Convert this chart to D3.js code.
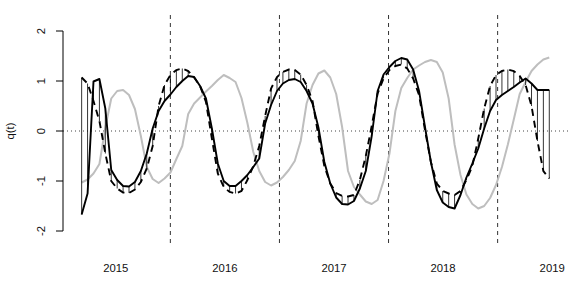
<!DOCTYPE html>
<html>
<head>
<meta charset="utf-8">
<script src="https://cdn.jsdelivr.net/npm/d3@7"></script>
<style>
  body { margin: 0; background: #fff; }
  text { font-family: "Liberation Sans", Arial, Helvetica, sans-serif; font-size: 11.3px; fill: #111; }
</style>
</head>
<body>
<div id="chart"></div>
<script>
// sampled series, 18.43 points per year starting at 2014.687
const start = 2014.687;
const perYear = 18.43;

const fitted = [
  -1.67, -1.25, 0.99, 1.04, 0.45, -0.78, -0.98, -1.1, -1.11, -1.02,
  -0.8, -0.45, 0.05, 0.4, 0.6, 0.73, 0.88, 1.0, 1.1, 1.08,
  0.9, 0.65, 0.05, -0.65, -1.0, -1.1, -1.1, -1.0, -0.88, -0.72,
  -0.55, 0.15, 0.52, 0.8, 0.95, 1.02, 1.04, 0.98, 0.8, 0.55,
  0.07, -0.62, -1.05, -1.33, -1.46, -1.47, -1.4, -1.15, -0.8, -0.1,
  0.8, 1.13, 1.28, 1.4, 1.46, 1.43, 1.23, 0.8, 0.08, -0.62,
  -1.18, -1.43, -1.52, -1.55, -1.28, -0.93, -0.65, -0.35, 0.05, 0.4,
  0.62, 0.72, 0.8, 0.88, 0.97, 1.05, 0.95, 0.82, 0.82, 0.82
];

const observed = [
  1.07, 0.95, 0.6, 0.2, -0.45, -1.0, -1.15, -1.23, -1.24, -1.17,
  -1.02, -0.75, -0.3, 0.5, 0.92, 1.12, 1.22, 1.25, 1.2, 1.07,
  0.9, 0.58, -0.15, -0.85, -1.12, -1.22, -1.25, -1.2, -0.98, -0.7,
  -0.3, 0.3, 0.85, 1.08, 1.18, 1.23, 1.22, 1.13, 0.92, 0.6,
  -0.1, -0.7, -1.05, -1.24, -1.3, -1.31, -1.28, -0.98, -0.5, 0.1,
  0.75, 1.05, 1.22, 1.3, 1.33, 1.25, 1.05, 0.72, 0.02, -0.62,
  -1.05, -1.2, -1.25, -1.28, -1.2, -0.98, -0.7, -0.15, 0.45, 0.9,
  1.12, 1.2, 1.23, 1.2, 1.1, 0.92, 0.5, -0.2, -0.8, -0.95
];

const lagged = [
  -1.03, -0.97, -0.85, -0.66, 0.07, 0.65, 0.8, 0.82, 0.72, 0.44,
  -0.1, -0.72, -0.96, -1.04, -0.95, -0.83, -0.56, -0.3, 0.34, 0.55,
  0.67, 0.79, 0.9, 1.02, 1.12, 1.06, 0.98, 0.66, 0.16, -0.42,
  -0.8, -1.02, -1.09, -1.03, -0.92, -0.78, -0.6, -0.2, 0.55, 0.92,
  1.15, 1.21, 1.07, 0.74, 0.08, -0.8, -1.12, -1.27, -1.41, -1.46,
  -1.38, -1.0, -0.45, 0.4, 0.86, 1.06, 1.23, 1.31, 1.38, 1.42,
  1.38, 1.17, 0.65, -0.27, -0.88, -1.27, -1.46, -1.55, -1.5, -1.34,
  -1.08, -0.72, -0.27, 0.23, 0.74, 0.98, 1.2, 1.33, 1.43, 1.47
];

const years = [2015, 2016, 2017, 2018, 2019];
const midYears = [2015.5, 2016.5, 2017.5, 2018.5];
const yTicks = [-2, -1, 0, 1, 2];

const width = 584, height = 291;
const plot = { left: 63, right: 568, top: 15, bottom: 243 };

const svg = d3.select('#chart')
  .append('svg')
  .attr('width', width)
  .attr('height', height);

const x = d3.scaleLinear()
  .domain([2014.516, 2019.145])
  .range([plot.left, plot.right]);
const y = d3.scaleLinear()
  .domain([-2, 2])
  .range([231, 31]);

const t = fitted.map((d, i) => start + i / perYear);

// reference lines
svg.append('line')
  .attr('x1', plot.left).attr('x2', plot.right)
  .attr('y1', y(0)).attr('y2', y(0))
  .attr('stroke', '#444').attr('stroke-width', 1)
  .attr('stroke-dasharray', '1,3');

svg.selectAll('.vline')
  .data(midYears)
  .enter()
  .append('line')
  .attr('x1', d => x(d)).attr('x2', d => x(d))
  .attr('y1', plot.top).attr('y2', plot.bottom)
  .attr('stroke', '#333').attr('stroke-width', 1)
  .attr('stroke-dasharray', '4,4');

const line = vals => d3.line()
  .x((d, i) => x(t[i]))
  .y(d => y(d))(vals);

svg.append('path')
  .attr('d', line(lagged))
  .attr('fill', 'none')
  .attr('stroke', '#bebebe')
  .attr('stroke-width', 2)
  .attr('stroke-linejoin', 'round');

// residual segments
svg.selectAll('.resid')
  .data(fitted)
  .enter()
  .append('line')
  .attr('x1', (d, i) => x(t[i])).attr('x2', (d, i) => x(t[i]))
  .attr('y1', d => y(d))
  .attr('y2', (d, i) => y(observed[i]))
  .attr('stroke', '#000').attr('stroke-width', 0.8);

svg.append('path')
  .attr('d', line(observed))
  .attr('fill', 'none')
  .attr('stroke', '#000')
  .attr('stroke-width', 1.9)
  .attr('stroke-dasharray', '7,5');

svg.append('path')
  .attr('d', line(fitted))
  .attr('fill', 'none')
  .attr('stroke', '#000')
  .attr('stroke-width', 1.9)
  .attr('stroke-linejoin', 'round');

// y axis
const yAxis = svg.append('g');
yAxis.append('line')
  .attr('x1', plot.left).attr('x2', plot.left)
  .attr('y1', y(-2)).attr('y2', y(2))
  .attr('stroke', '#000');
yAxis.selectAll('.tick')
  .data(yTicks)
  .enter()
  .append('line')
  .attr('x1', plot.left - 7).attr('x2', plot.left)
  .attr('y1', d => y(d)).attr('y2', d => y(d))
  .attr('stroke', '#000');
yAxis.selectAll('.lab')
  .data(yTicks)
  .enter()
  .append('text')
  .attr('transform', d => `translate(41,${y(d)}) rotate(-90)`)
  .attr('text-anchor', 'middle')
  .attr('dy', '0.35em')
  .text(d => d);

svg.append('text')
  .attr('transform', `translate(10,${y(0)}) rotate(-90)`)
  .attr('text-anchor', 'middle')
  .attr('dy', '0.35em')
  .text('q(t)');

// x labels
svg.selectAll('.year')
  .data(years)
  .enter()
  .append('text')
  .attr('x', d => x(d))
  .attr('y', 268)
  .attr('text-anchor', 'middle')
  .attr('dy', '0.35em')
  .text(d => d);
</script>
</body>
</html>
